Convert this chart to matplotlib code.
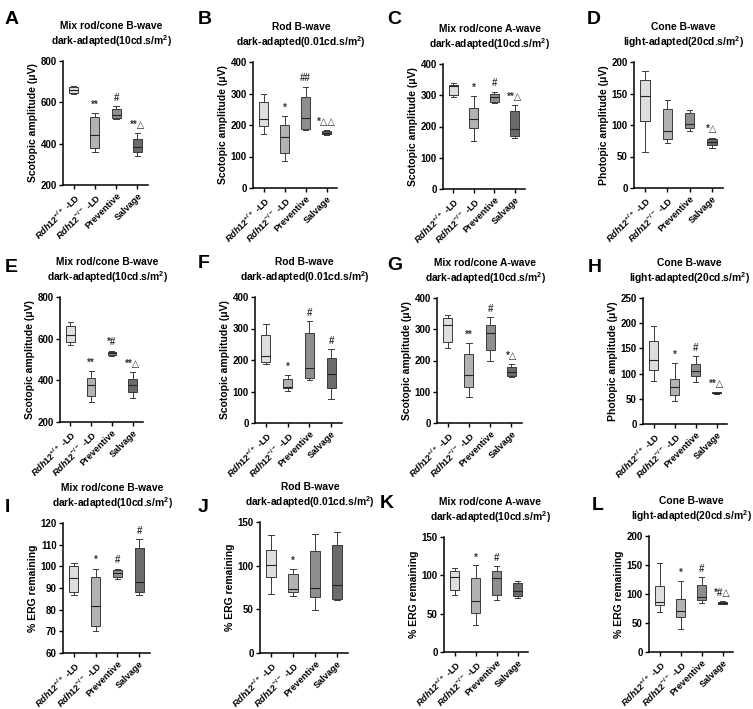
import matplotlib
matplotlib.use("Agg")
import matplotlib.pyplot as plt

plt.rcParams['font.family'] = ['Liberation Sans', 'DejaVu Sans']
plt.rcParams['mathtext.fontset'] = 'custom'
plt.rcParams['mathtext.rm'] = 'Liberation Sans:bold'
plt.rcParams['mathtext.it'] = 'Liberation Sans:italic:bold'
plt.rcParams['mathtext.bf'] = 'Liberation Sans:bold'

groups = [r"$\mathit{Rdh12}^{+/+}$ -LD", r"$\mathit{Rdh12}^{-/-}$ -LD", "Preventive", "Salvage"]
box_colors = ["#dedede", "#b2b2b2", "#8e8e8e", "#6b6b6b"]

letters = list("ABCDEFGHIJKL")
title_top = ["Mix rod/cone B-wave", "Rod B-wave", "Mix rod/cone A-wave", "Cone B-wave"] * 3
title_bot = [r"dark-adapted(10cd.s/m$^2$)", r"dark-adapted(0.01cd.s/m$^2$)",
             r"dark-adapted(10cd.s/m$^2$)", r"light-adapted(20cd.s/m$^2$)"] * 3
ylabels = ["Scotopic amplitude (μV)"] * 3 + ["Photopic amplitude (μV)"] + \
          ["Scotopic amplitude (μV)"] * 3 + ["Photopic amplitude (μV)"] + \
          ["% ERG remaining"] * 4
ylims = [(200, 800), (0, 400), (0, 400), (0, 200),
         (200, 800), (0, 400), (0, 400), (0, 250),
         (60, 120), (0, 150), (0, 150), (0, 200)]
ysteps = [200, 100, 100, 50, 200, 100, 100, 50, 10, 50, 50, 50]

# five-number summaries: (min, q1, median, q3, max) per group
A_stats = [(640, 645, 660, 675, 680), (360, 380, 440, 530, 550), (520, 525, 540, 570, 580), (340, 360, 385, 425, 450)]
B_stats = [(172, 198, 218, 273, 300), (85, 112, 162, 200, 228), (185, 187, 222, 290, 322), (168, 170, 175, 180, 183)]
C_stats = [(293, 302, 330, 333, 340), (155, 195, 225, 258, 298), (275, 280, 293, 305, 312), (162, 170, 193, 250, 270)]
D_stats = [(57, 107, 146, 172, 186), (72, 78, 91, 125, 140), (90, 95, 101, 119, 124), (64, 69, 73, 77, 80)]
E_stats = [(572, 582, 617, 660, 678), (295, 327, 377, 412, 443), (515, 522, 530, 537, 543), (315, 345, 378, 408, 438)]
F_stats = [(188, 195, 213, 280, 313), (103, 112, 115, 140, 152), (137, 143, 175, 285, 323), (77, 110, 155, 205, 235)]
G_stats = [(240, 258, 313, 335, 345), (83, 115, 153, 220, 256), (200, 233, 288, 313, 338), (147, 150, 163, 180, 188)]
H_stats = [(85, 108, 127, 165, 194), (46, 58, 74, 90, 122), (84, 95, 106, 120, 134), (60, 61, 62, 63, 64)]
I_stats = [(87, 88, 94.5, 100, 101.5), (70, 72.5, 81.5, 95, 99), (94, 95, 97, 98.5, 99), (87, 88, 93, 108.5, 112.5)]
J_stats = [(68, 87, 101, 118, 135), (65, 70, 73, 90, 96), (49, 64, 75, 117, 136), (61, 62, 78, 124, 138)]
K_stats = [(75, 81, 98, 106, 110), (35, 51, 66, 97, 113), (68, 75, 97, 106, 112), (71, 73, 80, 90, 92)]
L_stats = [(69, 81, 87, 113, 154), (39, 60, 70, 92, 122), (85, 90, 95, 115, 130), (82, 83, 85, 87, 88)]
all_stats = [A_stats, B_stats, C_stats, D_stats, E_stats, F_stats, G_stats, H_stats,
             I_stats, J_stats, K_stats, L_stats]

A_sig = ["", "**", "#", "**△"]
B_sig = ["", "*", "##", "*△△"]
C_sig = ["", "*", "#", "**△"]
D_sig = ["", "", "", "*△"]
E_sig = ["", "**", "*#", "**△"]
F_sig = ["", "*", "#", "#"]
G_sig = ["", "**", "#", "*△"]
H_sig = ["", "*", "#", "**△"]
I_sig = ["", "*", "#", "#"]
J_sig = ["", "*", "", ""]
K_sig = ["", "*", "#", ""]
L_sig = ["", "*", "#", "*#△"]
all_sig = [A_sig, B_sig, C_sig, D_sig, E_sig, F_sig, G_sig, H_sig, I_sig, J_sig, K_sig, L_sig]

W, H = 753, 709
fig = plt.figure(figsize=(W / 100, H / 100), dpi=100)

# axes rectangles in pixels: left, top, right, bottom
rects = [(63, 61, 148, 185), (253, 62, 337, 188), (443, 64, 525, 189), (634, 62, 723, 188),
         (60, 297, 143, 422), (255, 297, 342, 423), (437, 298, 522, 423), (643, 298, 727, 424),
         (63, 523, 150, 653), (260, 522, 348, 653), (444, 537, 528, 652), (649, 536, 733, 652)]
letter_pos = [(5, 20), (198, 20), (387, 20), (587, 20),
              (5, 267), (198, 263), (387, 265), (588, 267),
              (5, 507), (198, 507), (380, 503), (592, 505)]
title_x = [0.57, 0.57, 0.57, 0.55, 0.57, 0.57, 0.57, 0.55, 0.57, 0.57, 0.55, 0.5]

edge = "#3a3a3a"
for i in range(12):
    l, t, r, b = rects[i]
    ax = fig.add_axes([l / W, 1 - b / H, (r - l) / W, (b - t) / H])
    stats = []
    for g, s in enumerate(all_stats[i]):
        stats.append(dict(whislo=s[0], q1=s[1], med=s[2], q3=s[3], whishi=s[4], label=groups[g]))
    bp = ax.bxp(stats, positions=[1, 2, 3, 4], widths=0.42, showfliers=False, patch_artist=True,
                boxprops=dict(edgecolor=edge, linewidth=0.7),
                whiskerprops=dict(color=edge, linewidth=0.7),
                capprops=dict(color=edge, linewidth=0.7),
                medianprops=dict(color="#222222", linewidth=0.8),
                capwidths=0.25)
    for patch, c in zip(bp['boxes'], box_colors):
        patch.set_facecolor(c)
    y0, y1 = ylims[i]
    rng = y1 - y0
    for g, s in enumerate(all_stats[i]):
        if all_sig[i][g]:
            ax.text(g + 1, s[4] + rng * 0.025, all_sig[i][g], ha='center', va='bottom',
                    fontsize=7, fontweight='bold', color="#333333",
                    family=['Liberation Sans', 'DejaVu Sans'])
    ax.set_xlim(0.5, 4.5)
    ax.set_ylim(y0, y1)
    ax.set_yticks(list(range(y0, y1 + 1, ysteps[i])))
    ax.spines['top'].set_visible(False)
    ax.spines['right'].set_visible(False)
    ax.spines['left'].set_linewidth(1.1)
    ax.spines['bottom'].set_linewidth(1.1)
    ax.tick_params(axis='both', width=1.0, length=3, labelsize=7, pad=1.5)
    for lab in ax.get_yticklabels():
        lab.set_fontweight('bold')
    ax.set_xticks([1, 2, 3, 4])
    ax.set_xticklabels(groups, rotation=45, ha='right', rotation_mode='anchor',
                       fontsize=6.6, fontweight='bold')
    ax.set_ylabel(ylabels[i], fontsize=7.5, fontweight='bold', labelpad=2)
    ax.annotate(title_top[i], xy=(title_x[i], 1.0), xycoords='axes fraction', xytext=(0, 25),
                textcoords='offset points', ha='center', va='center',
                fontsize=7.4, fontweight='bold')
    ax.annotate(title_bot[i], xy=(title_x[i], 1.0), xycoords='axes fraction', xytext=(0, 14.5),
                textcoords='offset points', ha='center', va='center',
                fontsize=7.4, fontweight='bold')
    lx, ly = letter_pos[i]
    fig.text(lx / W, 1 - ly / H, letters[i], fontsize=14, fontweight='bold', va='center', ha='left')

fig.savefig("out.png", dpi=100)
